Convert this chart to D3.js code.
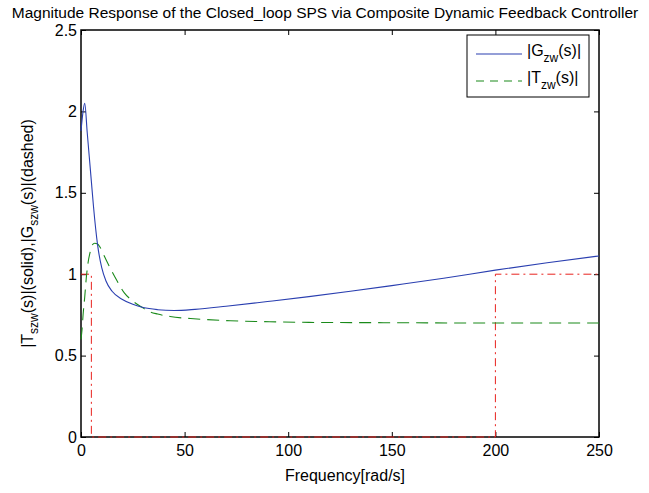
<!DOCTYPE html>
<html>
<head>
<meta charset="utf-8">
<script src="https://cdn.jsdelivr.net/npm/d3@7"></script>
<style>
  body { margin: 0; background: #fff; }
  text { font-family: "Liberation Sans", Arial, sans-serif; fill: #000; }
</style>
</head>
<body>
<svg id="chart" width="649" height="493"></svg>
<script>
// |G_zw(s)| solid blue
const gFreq = [0, 1, 1.8, 3, 4, 5, 6, 8, 10, 12, 15, 20, 25, 30, 37, 45, 55, 70, 90, 110, 130, 150, 175, 200, 225, 250];
const gMag = [1.88, 2.0, 2.05, 1.87, 1.72, 1.57, 1.42, 1.18, 1.04, 0.96, 0.895, 0.845, 0.815, 0.795, 0.782, 0.777, 0.784, 0.803, 0.832, 0.862, 0.895, 0.93, 0.975, 1.025, 1.07, 1.112];
// |T_zw(s)| dashed green
const tFreq = [0, 0.5, 1, 1.8, 2.5, 3.4, 4.5, 5.5, 6.6, 8, 9, 11.4, 14, 16.3, 21, 25, 29, 33, 37, 43, 56, 72, 91, 110, 150, 200, 250];
const tMag = [0.6, 0.66, 0.75, 0.86, 0.97, 1.07, 1.14, 1.18, 1.19, 1.185, 1.17, 1.107, 1.04, 0.985, 0.884, 0.835, 0.80, 0.77, 0.755, 0.74, 0.725, 0.714, 0.708, 0.704, 0.702, 0.70, 0.70];
// bound template, red dash-dot
const boundFreq = [0, 5, 5, 200, 200, 250];
const boundMag = [1, 1, 0, 0, 1, 1];

const xTicks = [0, 50, 100, 150, 200, 250];
const yTicks = [0, 0.5, 1, 1.5, 2, 2.5];

const svg = d3.select('#chart');
const plotLeft = 81, plotRight = 599, plotTop = 30, plotBottom = 437;

let x = d3.scaleLinear().domain([0, 250]).range([plotLeft, plotRight]);
let y = d3.scaleLinear().domain([0, 2.5]).range([plotBottom, plotTop]);

// title
svg.append('text')
  .attr('x', 325).attr('y', 18)
  .attr('text-anchor', 'middle')
  .style('font-size', '15.5px')
  .text('Magnitude Response of the Closed_loop SPS via Composite Dynamic Feedback Controller');

// axes (ticks inward, mirrored)
function styleAxis(g) {
  g.select('.domain').remove();
  g.selectAll('.tick line').attr('stroke', '#000');
  g.selectAll('.tick text').style('font-size', '16px');
  g.attr('font-family', null);
}
svg.append('g')
  .attr('transform', `translate(0,${plotBottom})`)
  .call(d3.axisBottom(x).tickValues(xTicks).tickFormat(d3.format('d')).tickSizeInner(-5).tickPadding(8))
  .call(styleAxis);
svg.append('g')
  .attr('transform', `translate(0,${plotTop})`)
  .call(d3.axisTop(x).tickValues(xTicks).tickFormat('').tickSizeInner(-5))
  .call(styleAxis);
svg.append('g')
  .attr('transform', `translate(${plotLeft},0)`)
  .call(d3.axisLeft(y).tickValues(yTicks).tickFormat(d => d).tickSizeInner(-5).tickPadding(4))
  .call(styleAxis);
svg.append('g')
  .attr('transform', `translate(${plotRight},0)`)
  .call(d3.axisRight(y).tickValues(yTicks).tickFormat('').tickSizeInner(-5))
  .call(styleAxis);

// plot box
svg.append('rect')
  .attr('x', plotLeft).attr('y', plotTop)
  .attr('width', plotRight - plotLeft).attr('height', plotBottom - plotTop)
  .attr('fill', 'none')
  .attr('stroke', '#000')
  .attr('stroke-width', 1.5);

let line = d3.line().x(d => x(d[0])).y(d => y(d[1]));
let lineSmooth = d3.line().x(d => x(d[0])).y(d => y(d[1])).curve(d3.curveMonotoneX);

svg.append('path')
  .datum(boundFreq.map((f, i) => [f, boundMag[i]]))
  .attr('d', line)
  .attr('fill', 'none')
  .attr('stroke', '#e8221e')
  .attr('stroke-width', 1)
  .attr('stroke-dasharray', '8,4,2,4');

svg.append('path')
  .datum(tFreq.map((f, i) => [f, tMag[i]]))
  .attr('d', lineSmooth)
  .attr('fill', 'none')
  .attr('stroke', '#1a8a1a')
  .attr('stroke-width', 1.1)
  .attr('stroke-dasharray', '12,7');

svg.append('path')
  .datum(gFreq.map((f, i) => [f, gMag[i]]))
  .attr('d', lineSmooth)
  .attr('fill', 'none')
  .attr('stroke', '#2a3fb0')
  .attr('stroke-width', 1.1);

// axis labels
svg.append('text')
  .attr('x', 345).attr('y', 481)
  .attr('text-anchor', 'middle')
  .style('font-size', '16px')
  .text('Frequency[rad/s]');

let yl = svg.append('text')
  .attr('text-anchor', 'middle')
  .attr('transform', `translate(33,${(plotTop + plotBottom) / 2}) rotate(-90)`)
  .style('font-size', '16px');
yl.append('tspan').text('|T');
yl.append('tspan').attr('dy', 5).style('font-size', '12px').text('szw');
yl.append('tspan').attr('dy', -5).text('(s)|(solid),|G');
yl.append('tspan').attr('dy', 5).style('font-size', '12px').text('szw');
yl.append('tspan').attr('dy', -5).text('(s)|(dashed)');

// legend
let legend = svg.append('g');
legend.append('rect')
  .attr('x', 467).attr('y', 35)
  .attr('width', 122).attr('height', 62)
  .attr('fill', '#fff')
  .attr('stroke', '#000')
  .attr('stroke-width', 1);
let items = [
  {label: 'G', color: '#2a3fb0', dash: null, y: 54},
  {label: 'T', color: '#1a8a1a', dash: '8,6', y: 81}
];
items.forEach(it => {
  legend.append('line')
    .attr('x1', 476).attr('x2', 522)
    .attr('y1', it.y).attr('y2', it.y)
    .attr('stroke', it.color)
    .attr('stroke-width', 1.1)
    .attr('stroke-dasharray', it.dash);
  let t = legend.append('text')
    .attr('x', 527).attr('y', it.y + 2)
    .style('font-size', '16px');
  t.append('tspan').text('|' + it.label);
  t.append('tspan').attr('dy', 6).style('font-size', '12px').text('zw');
  t.append('tspan').attr('dy', -6).text('(s)|');
});
</script>
</body>
</html>
